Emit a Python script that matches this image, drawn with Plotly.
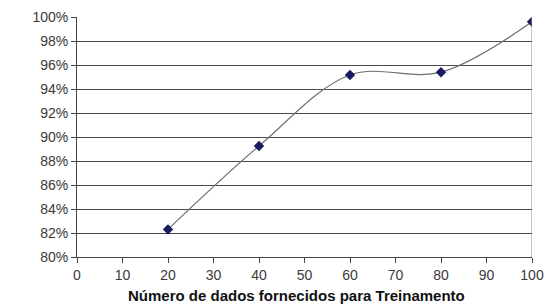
import plotly.graph_objects as go

x_vals = [20, 40, 60, 80, 100]
y_vals = [0.823, 0.8925, 0.9517, 0.954, 0.996]
x_ticks = [0, 10, 20, 30, 40, 50, 60, 70, 80, 90, 100]
y_ticks = [0.80, 0.82, 0.84, 0.86, 0.88, 0.90, 0.92, 0.94, 0.96, 0.98, 1.00]
x_title = "Número de dados fornecidos para Treinamento"

fig = go.Figure()
fig.add_trace(go.Scatter(
    x=x_vals, y=y_vals, mode="lines+markers",
    line=dict(color="#707070", width=1.2, shape="spline", smoothing=1.0),
    marker=dict(symbol="diamond", size=8, color="#1a1a5e"),
    showlegend=False,
))

fig.update_layout(
    width=547, height=306,
    margin=dict(l=77, r=15, t=17, b=49),
    paper_bgcolor="white", plot_bgcolor="white",
    font=dict(family="Liberation Sans, Arial, sans-serif", size=14, color="#3a3a3a"),
    xaxis=dict(
        range=[0, 100], tickvals=x_ticks, ticks="outside", ticklen=5,
        tickcolor="#444", showgrid=False, zeroline=False, automargin=False,
        showline=True, linecolor="#444", linewidth=1,
    ),
    yaxis=dict(
        range=[0.80, 1.00], tickvals=y_ticks, tickformat=".0%", ticks="outside",
        ticklen=5, tickcolor="#444", showgrid=True, gridcolor="#4a4a4a", gridwidth=1,
        zeroline=False, showline=True, linecolor="#444", linewidth=1, automargin=False,
    ),
)
fig.add_annotation(text="<b>" + x_title + "</b>", xref="paper", yref="paper",
                   x=0.483, y=0, yshift=-49, yanchor="bottom", showarrow=False,
                   font=dict(size=15, color="#111"))
fig.add_shape(type="line", xref="x", yref="paper", x0=100, x1=100, y0=0, y1=1,
              line=dict(color="#888", width=1))
fig.write_html("out.html")
